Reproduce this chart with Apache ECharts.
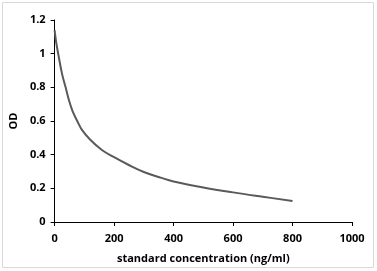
<!DOCTYPE html>
<html>
<head>
<meta charset="utf-8">
<script src="https://cdn.jsdelivr.net/npm/echarts@6/dist/echarts.min.js"></script>
<style>
  html, body { margin: 0; padding: 0; background: #fff; }
  #chart { width: 377px; height: 271px; }
</style>
</head>
<body>
<div id="chart"></div>
<script>
var chartDom = document.getElementById('chart');
var chart = echarts.init(chartDom);

// standard curve
var conc = [0, 5, 12, 25, 37, 48, 60, 76, 92, 119, 159, 200, 248, 300, 359, 400, 500, 600, 700, 800];
var od = [1.14, 1.07, 1.0, 0.88, 0.8, 0.725, 0.66, 0.6, 0.547, 0.49, 0.428, 0.385, 0.34, 0.297, 0.262, 0.241, 0.205, 0.176, 0.15, 0.125];

var xName = 'standard concentration (ng/ml)';
var yName = 'OD';

var labelFont = {
  color: '#000',
  fontFamily: 'Open Sans',
  fontWeight: 'bold',
  fontSize: 11
};

var option = {
  animation: false,
  graphic: [{
    type: 'rect',
    shape: { x: 2.5, y: 2.5, width: 371, height: 265 },
    style: { fill: 'none', stroke: '#d9d9d9', lineWidth: 1 },
    silent: true
  }],
  grid: {
    left: 52,
    right: 25,
    top: 20,
    bottom: 49
  },
  xAxis: {
    type: 'value',
    min: 0,
    max: 1000,
    interval: 200,
    name: xName,
    nameLocation: 'middle',
    nameGap: 31,
    nameTextStyle: labelFont,
    axisLine: { lineStyle: { color: '#000', width: 1 } },
    axisTick: { show: true, length: 4, lineStyle: { color: '#000' } },
    axisLabel: Object.assign({ margin: 11, formatter: function (v) { return String(v); } }, labelFont),
    splitLine: { show: false }
  },
  yAxis: {
    type: 'value',
    min: 0,
    max: 1.2,
    interval: 0.2,
    name: yName,
    nameLocation: 'middle',
    nameGap: 34,
    nameTextStyle: labelFont,
    axisLine: { show: true, lineStyle: { color: '#000', width: 1 } },
    axisTick: { show: true, length: 4, lineStyle: { color: '#000' } },
    axisLabel: Object.assign({ margin: 9 }, labelFont),
    splitLine: { show: false }
  },
  series: [{
    type: 'line',
    data: conc.map(function (c, i) { return [c, od[i]]; }),
    smooth: 0.4,
    showSymbol: false,
    lineStyle: { color: '#5a5a5a', width: 2 }
  }]
};

chart.setOption(option);
</script>
</body>
</html>
